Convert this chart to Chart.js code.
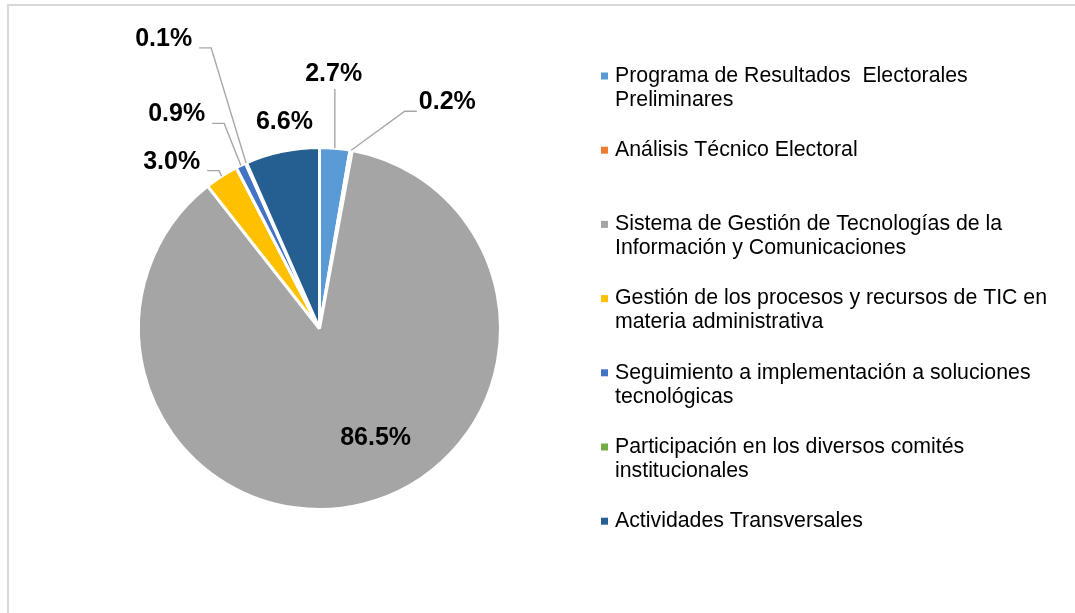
<!DOCTYPE html>
<html>
<head>
<meta charset="utf-8">
<script src="https://cdn.jsdelivr.net/npm/chart.js@4.4.0/dist/chart.umd.min.js"></script>
<style>
  html, body { margin: 0; padding: 0; background: #fff; overflow: hidden; }
  #wrap { position: relative; width: 1075px; height: 613px; }
  #frame { position: absolute; left: 7px; top: 4px; right: -10px; bottom: -10px;
           border-left: 2px solid #d9d9d9; border-top: 2px solid #d9d9d9; }
  canvas { position: absolute; left: 0; top: 0; }
</style>
</head>
<body>
<div id="wrap">
  <div id="frame"></div>
  <canvas id="pieChart" width="1075" height="613"></canvas>
</div>
<script>
const categories = [
    'Programa de Resultados  Electorales Preliminares',
    'Análisis Técnico Electoral',
    'Sistema de Gestión de Tecnologías de la Información y Comunicaciones',
    'Gestión de los procesos y recursos de TIC en materia administrativa',
    'Seguimiento a implementación a soluciones tecnológicas',
    'Participación en los diversos comités institucionales',
    'Actividades Transversales'
];
const shares = [2.7, 0.2, 86.5, 3.0, 0.9, 0.1, 6.6];
const sliceColors = ['#5B9BD5', '#ED7D31', '#A5A5A5', '#FFC000', '#4472C4', '#70AD47', '#255E91'];

// where each % label sits, in pie radii from the centre (like Excel "best fit")
const labelSpots = [
    { dx: 0.078, dy: -1.406, leader: 'up' },
    { dx: 0.706, dy: -1.25, leader: 'left' },
    { dx: 0.31, dy: 0.605, leader: null },
    { dx: -0.817, dy: -0.922, leader: 'right' },
    { dx: -0.789, dy: -1.183, leader: 'right' },
    { dx: -0.861, dy: -1.6, leader: 'right' },
    { dx: -0.194, dy: -1.139, leader: null }
];

const legendBox = { x: 601, y: 76, step: 74.2, wrap: 445, lineH: 24 };

const pieLabels = {
    id: 'pieLabels',
    afterDatasetsDraw(chart) {
        const ctx = chart.ctx;
        const arcs = chart.getDatasetMeta(0).data;
        ctx.save();
        ctx.font = 'bold 25px "Liberation Sans", Arial, sans-serif';
        ctx.textAlign = 'center';
        ctx.textBaseline = 'middle';
        arcs.forEach((arc, i) => {
            const p = arc.getProps(['x', 'y', 'startAngle', 'endAngle', 'outerRadius'], true);
            const spot = labelSpots[i];
            const lx = p.x + spot.dx * p.outerRadius;
            const ly = p.y + spot.dy * p.outerRadius;
            const text = shares[i].toFixed(1) + '%';
            const w = ctx.measureText(text).width;
            const mid = (p.startAngle + p.endAngle) / 2;
            const ex = p.x + Math.cos(mid) * p.outerRadius;
            const ey = p.y + Math.sin(mid) * p.outerRadius;
            if (spot.leader) {
                ctx.strokeStyle = '#A6A6A6';
                ctx.lineWidth = 1.4;
                ctx.beginPath();
                ctx.moveTo(ex, ey);
                if (spot.leader === 'up') {
                    ctx.lineTo(ex, ly + 15);
                } else if (spot.leader === 'left') {
                    const left = lx - w / 2;
                    ctx.lineTo(left - 14, ly + 9);
                    ctx.lineTo(left - 2, ly + 9);
                } else {
                    const right = lx + w / 2;
                    ctx.lineTo(right + 19, ly + 9);
                    ctx.lineTo(right + 7, ly + 9);
                }
                ctx.stroke();
            }
            ctx.fillStyle = '#000';
            ctx.fillText(text, lx, ly);
        });
        ctx.restore();
    }
};

const sideLegend = {
    id: 'sideLegend',
    afterDraw(chart) {
        const ctx = chart.ctx;
        ctx.save();
        ctx.font = '21.3px "Liberation Sans", Arial, sans-serif';
        ctx.textBaseline = 'middle';
        ctx.textAlign = 'left';
        chart.data.labels.forEach((label, i) => {
            const y = legendBox.y + i * legendBox.step;
            ctx.fillStyle = sliceColors[i];
            ctx.fillRect(legendBox.x, y - 3.5, 7, 7);
            // wrap the label onto lines
            const words = label.split(' ');
            const lines = [];
            let line = words[0];
            for (let k = 1; k < words.length; k++) {
                const test = line + ' ' + words[k];
                if (ctx.measureText(test).width > legendBox.wrap && line.trim()) {
                    lines.push(line);
                    line = words[k];
                } else {
                    line = test;
                }
            }
            lines.push(line);
            ctx.fillStyle = '#000';
            lines.forEach((ln, j) => ctx.fillText(ln, legendBox.x + 14, y + j * legendBox.lineH));
        });
        ctx.restore();
    }
};

new Chart(document.getElementById('pieChart'), {
    type: 'pie',
    data: {
        labels: categories,
        datasets: [{
            data: shares,
            backgroundColor: sliceColors,
            borderColor: '#FFFFFF',
            borderWidth: 3
        }]
    },
    options: {
        responsive: false,
        animation: false,
        layout: { padding: { left: 137, right: 573, top: 146, bottom: 102 } },
        plugins: {
            legend: { display: false },
            tooltip: { enabled: false }
        }
    },
    plugins: [pieLabels, sideLegend]
});
</script>
</body>
</html>
